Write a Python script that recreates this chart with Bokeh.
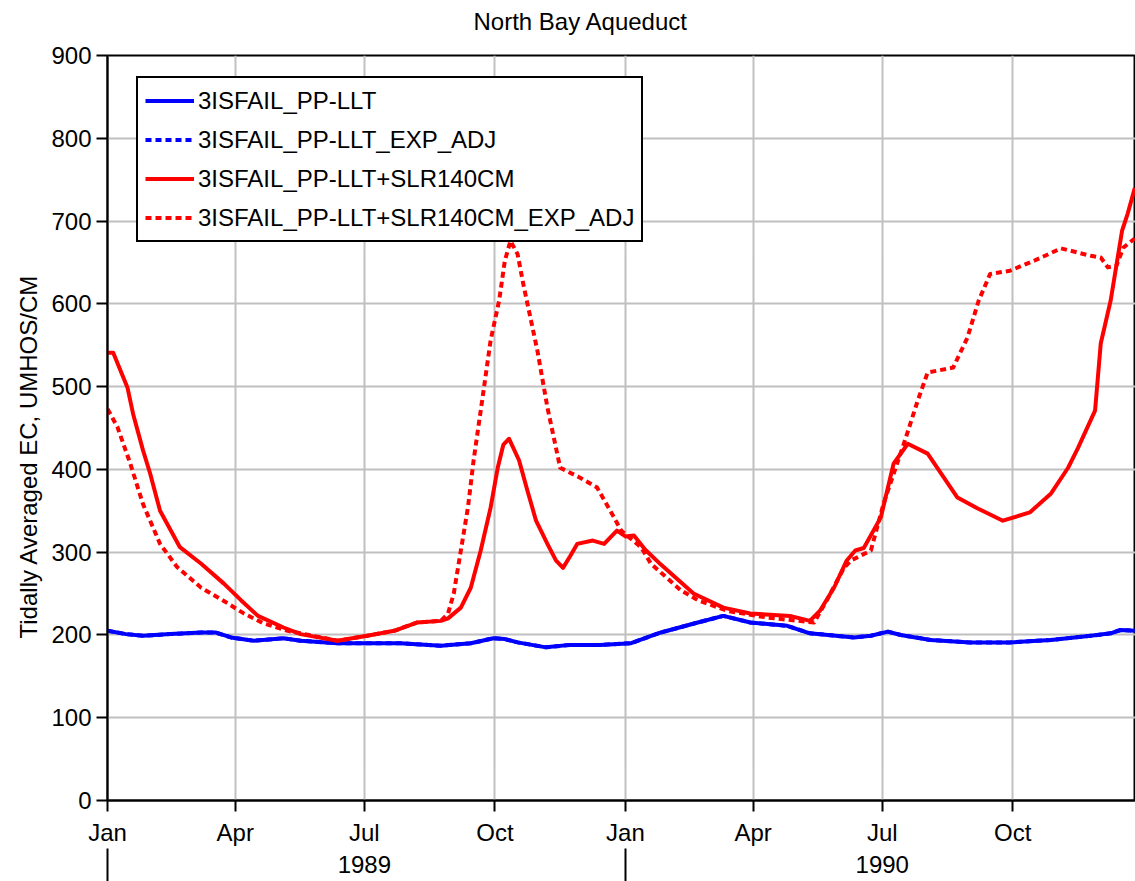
import pandas as pd
from bokeh.plotting import figure
from bokeh.models import (Range1d, DatetimeAxis, LinearAxis, FixedTicker, DatetimeTickFormatter,
                          Legend, LegendItem, Title)
from bokeh.embed import file_html
from bokeh.resources import INLINE

# ---------------- data ----------------
base_dates = ["1989-01-01", "1989-01-14", "1989-01-26", "1989-02-14", "1989-03-08", "1989-03-18",
              "1989-03-29", "1989-04-14", "1989-05-05", "1989-05-17", "1989-06-12", "1989-07-03",
              "1989-07-26", "1989-08-24", "1989-09-14", "1989-09-30", "1989-10-08", "1989-10-17",
              "1989-11-06", "1989-11-23", "1989-12-14", "1990-01-05", "1990-01-26", "1990-02-21",
              "1990-03-11", "1990-03-30", "1990-04-25", "1990-05-11", "1990-06-11", "1990-06-23",
              "1990-07-05", "1990-07-14", "1990-08-04", "1990-09-01", "1990-09-29", "1990-10-28",
              "1990-11-25", "1990-12-09", "1990-12-16", "1990-12-26"]
base_ec = [205, 201, 199, 201, 203, 203, 197, 193, 196, 193, 190, 190, 190, 187, 190, 196, 195, 191,
           185, 188, 188, 190, 203, 215, 223, 215, 211, 202, 197, 199, 204, 200, 194, 191, 191, 194,
           199, 202, 206, 205]

slr_dates = ["1989-01-01", "1989-01-05", "1989-01-15", "1989-01-19", "1989-01-26", "1989-01-31",
             "1989-02-07", "1989-02-21", "1989-03-08", "1989-03-24", "1989-04-05", "1989-04-17",
             "1989-05-05", "1989-05-17", "1989-06-12", "1989-07-03", "1989-07-22", "1989-08-07",
             "1989-08-24", "1989-08-29", "1989-09-07", "1989-09-14", "1989-09-21", "1989-09-28",
             "1989-10-03", "1989-10-07", "1989-10-11", "1989-10-18", "1989-10-24", "1989-10-30",
             "1989-11-07", "1989-11-13", "1989-11-18", "1989-11-23", "1989-11-28", "1989-12-09",
             "1989-12-17", "1989-12-26", "1990-01-01", "1990-01-07", "1990-01-15", "1990-01-26",
             "1990-02-18", "1990-03-11", "1990-03-30", "1990-04-27", "1990-05-11", "1990-05-18",
             "1990-05-28", "1990-06-06", "1990-06-12", "1990-06-18", "1990-06-30", "1990-07-09",
             "1990-07-19", "1990-08-02", "1990-08-23", "1990-09-06", "1990-09-24", "1990-10-13",
             "1990-10-28", "1990-11-09", "1990-11-16", "1990-11-28", "1990-12-02", "1990-12-09",
             "1990-12-17", "1990-12-21", "1990-12-26"]
slr_ec = [541, 541, 499, 467, 423, 395, 350, 306, 286, 262, 242, 223, 209, 201, 193, 199, 205, 215,
          217, 220, 233, 257, 302, 354, 402, 430, 437, 411, 374, 338, 310, 290, 281, 295, 310, 314,
          310, 326, 319, 320, 303, 285, 250, 233, 226, 223, 217, 229, 257, 290, 302, 305, 342, 407,
          431, 419, 366, 353, 338, 348, 371, 402, 426, 471, 552, 604, 688, 709, 740]

slr_adj_dates = ["1989-01-01", "1989-01-08", "1989-01-17", "1989-01-26", "1989-02-07", "1989-02-19",
                 "1989-03-08", "1989-03-24", "1989-04-07", "1989-04-21", "1989-05-08", "1989-05-17",
                 "1989-06-12", "1989-07-03", "1989-07-22", "1989-08-07", "1989-08-24", "1989-08-29",
                 "1989-09-02", "1989-09-07", "1989-09-12", "1989-09-16", "1989-09-22", "1989-09-28",
                 "1989-10-04", "1989-10-08", "1989-10-12", "1989-10-17", "1989-10-21", "1989-10-31",
                 "1989-11-07", "1989-11-16", "1989-11-30", "1989-12-12", "1989-12-24", "1989-12-29",
                 "1990-01-12", "1990-01-19", "1990-02-09", "1990-02-21", "1990-03-14", "1990-04-11",
                 "1990-05-14", "1990-05-23", "1990-06-04", "1990-06-09", "1990-06-23", "1990-07-02",
                 "1990-07-17", "1990-07-26", "1990-08-02", "1990-08-20", "1990-08-30", "1990-09-07",
                 "1990-09-15", "1990-09-29", "1990-10-16", "1990-11-04", "1990-11-25", "1990-12-02",
                 "1990-12-07", "1990-12-13", "1990-12-18", "1990-12-26"]
slr_adj_ec = [473, 451, 407, 358, 310, 282, 257, 241, 226, 214, 205, 202, 193, 199, 205, 215, 217,
              226, 250, 302, 354, 411, 483, 556, 604, 652, 676, 660, 624, 543, 475, 402, 390, 378,
              342, 326, 306, 286, 254, 242, 229, 221, 215, 242, 281, 290, 302, 359, 435, 483, 517,
              523, 559, 604, 636, 640, 652, 667, 658, 656, 644, 646, 668, 679]

series_names = ["3ISFAIL_PP-LLT", "3ISFAIL_PP-LLT_EXP_ADJ",
                "3ISFAIL_PP-LLT+SLR140CM", "3ISFAIL_PP-LLT+SLR140CM_EXP_ADJ"]
chart_title = "North Bay Aqueduct"
y_label = "Tidally Averaged EC, UMHOS/CM"

month_ticks = ["1989-01-01", "1989-04-01", "1989-07-01", "1989-10-01",
               "1990-01-01", "1990-04-01", "1990-07-01", "1990-10-01"]
year_label_ticks = ["1989-07-01", "1990-07-01"]
year_boundaries = ["1989-01-01", "1990-01-01"]
y_ticks = [0, 100, 200, 300, 400, 500, 600, 700, 800, 900]


def to_dt(lst):
    return pd.to_datetime(lst)


def to_ms(lst):
    return [int(pd.Timestamp(d).value // 10**6) for d in lst]


FONT = "Liberation Sans"
FS = "24px"

p = figure(width=1135, height=881, output_backend="svg", toolbar_location=None,
           x_axis_type="datetime",
           x_range=Range1d(start=pd.Timestamp("1988-12-31 23:00"), end=pd.Timestamp("1990-12-26 12:00")),
           y_range=Range1d(0, 900),
           min_border_left=107, min_border_right=0, min_border_top=55, min_border_bottom=81)

p.background_fill_color = "white"
p.border_fill_color = "white"
p.outline_line_color = "black"
p.outline_line_width = 2
p.title.visible = False

# the default axes -- grab them before adding any other axis
ax1 = p.below[0]
ay = p.left[0]

# invisible spacer axis between the frame and the title
sp_tick = to_ms(["1990-01-01"])[0]
spacer = LinearAxis(ticker=FixedTicker(ticks=[sp_tick]))
spacer.major_label_overrides = {sp_tick: ""}
spacer.major_label_text_font_size = "0px"
spacer.axis_line_color = None
spacer.major_tick_line_color = None
spacer.minor_tick_line_color = None
spacer.major_tick_in = 0
spacer.major_tick_out = 15
spacer.minor_tick_in = 0
spacer.minor_tick_out = 0
spacer.major_label_standoff = 0
p.add_layout(spacer, "above")

# title, outside the spacer
main_title = Title(text=chart_title, align="left", offset=366, standoff=11,
                   text_font=FONT, text_font_size=FS, text_font_style="normal", text_color="black")
p.add_layout(main_title, "above")

# y axis label as a left-side title (offset down from centre like the reference)
ytitle = Title(text=y_label, align="left", offset=162, standoff=14,
               text_font=FONT, text_font_size=FS, text_font_style="normal", text_color="black")
p.add_layout(ytitle, "left")

# x axis (months)
ax1.ticker = FixedTicker(ticks=to_ms(month_ticks))
fmt_m = DatetimeTickFormatter(microseconds="%b", milliseconds="%b", seconds="%b", minsec="%b",
                              minutes="%b", hourmin="%b", hours="%b", days="%b", months="%b", years="%b")
ax1.formatter = fmt_m
ax1.axis_line_width = 2
ax1.axis_line_color = "black"
ax1.major_tick_line_width = 2
ax1.major_tick_line_color = "black"
ax1.major_tick_in = 0
ax1.major_tick_out = 11
ax1.minor_tick_line_color = None
ax1.minor_tick_in = 0
ax1.minor_tick_out = 0
ax1.major_label_standoff = 7
ax1.major_label_text_font = FONT
ax1.major_label_text_font_size = FS
ax1.major_label_text_color = "black"

# x axis (years with separators at year boundaries)
fmt_y = DatetimeTickFormatter(microseconds="%Y", milliseconds="%Y", seconds="%Y", minsec="%Y",
                              minutes="%Y", hourmin="%Y", hours="%Y", days="%Y", months="%Y", years="%Y")
ax2 = DatetimeAxis(ticker=FixedTicker(ticks=to_ms(year_label_ticks), minor_ticks=to_ms(year_boundaries)),
                   formatter=fmt_y)
ax2.axis_line_color = None
ax2.major_tick_line_color = None
ax2.major_tick_in = 0
ax2.major_tick_out = 0
ax2.minor_tick_in = 0
ax2.minor_tick_out = 35
ax2.minor_tick_line_color = "black"
ax2.minor_tick_line_width = 2
ax2.major_label_standoff = -28
ax2.major_label_text_font = FONT
ax2.major_label_text_font_size = FS
ax2.major_label_text_color = "black"
p.add_layout(ax2, "below")

# y axis
ay.ticker = FixedTicker(ticks=y_ticks)
ay.axis_line_width = 2
ay.axis_line_color = "black"
ay.major_tick_line_width = 2
ay.major_tick_line_color = "black"
ay.major_tick_in = 0
ay.major_tick_out = 11
ay.minor_tick_line_color = None
ay.minor_tick_in = 0
ay.minor_tick_out = 0
ay.major_label_standoff = 5
ay.major_label_text_font = FONT
ay.major_label_text_font_size = FS
ay.major_label_text_color = "black"

# grids
p.xgrid.ticker = FixedTicker(ticks=to_ms(month_ticks))
p.ygrid.ticker = FixedTicker(ticks=y_ticks)
for g in (p.xgrid[0], p.ygrid[0]):
    g.grid_line_color = "#c0c0c0"
    g.grid_line_width = 2

# lines
r_b_adj = p.line(to_dt(base_dates), base_ec, line_color="#0000ff", line_width=4,
                 line_dash="6 4", line_join="round")
r_b = p.line(to_dt(base_dates), base_ec, line_color="#0000ff", line_width=4, line_join="round")
r_r_adj = p.line(to_dt(slr_adj_dates), slr_adj_ec, line_color="#ff0000", line_width=4,
                 line_dash="6 4", line_join="round")
r_r = p.line(to_dt(slr_dates), slr_ec, line_color="#ff0000", line_width=4, line_join="round")

legend = Legend(items=[LegendItem(label=series_names[0], renderers=[r_b]),
                       LegendItem(label=series_names[1], renderers=[r_b_adj]),
                       LegendItem(label=series_names[2], renderers=[r_r]),
                       LegendItem(label=series_names[3], renderers=[r_r_adj])],
                location=(29, 558))
legend.margin = 0
legend.padding = 7
legend.spacing = 8
legend.glyph_width = 49
legend.glyph_height = 31
legend.label_height = 31
legend.label_standoff = 4
legend.label_text_font = FONT
legend.label_text_font_size = FS
legend.label_text_color = "black"
legend.border_line_color = "black"
legend.border_line_alpha = 1.0
legend.border_line_width = 2
legend.background_fill_color = "white"
legend.background_fill_alpha = 1.0
p.add_layout(legend)

open("out.html", "w").write(file_html(p, INLINE))
